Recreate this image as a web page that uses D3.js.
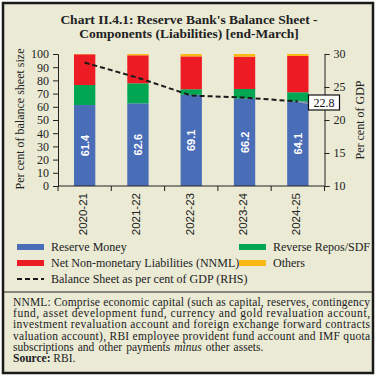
<!DOCTYPE html>
<html><head><meta charset="utf-8">
<script src="https://cdn.jsdelivr.net/npm/d3@7"></script>
<style>body{margin:0;background:#fff}svg{display:block}</style>
</head><body>
<script>
const years = ["2020-21","2021-22","2022-23","2023-24","2024-25"];
const reserveMoney = [61.4,62.6,69.1,66.2,64.1];
const reverseRepo = [15.1,15.2,4.2,7.3,6.9];
const nnml = [23.3,21.2,24.9,24.5,27.5];
const others = [0.2,1.0,1.8,2.0,1.5];
const gdpShare = [28.7,26.4,23.7,23.4,22.8];
const leftTicks = [0,10,20,30,40,50,60,70,80,90,100];
const rightTicks = [10,15,20,25,30];
const seriesNames = ["Reserve Money","Reverse Repos/SDF","Net Non-monetary Liabilities (NNML)","Others"];
const colors = ["#4a6db8","#00a651","#ed1c24","#fdb913"];

const W=378,H=377;
const svg=d3.select("body").append("svg").attr("width",W).attr("height",H);
svg.append("rect").attr("x",3).attr("y",3).attr("width",370).attr("height",370)
  .attr("fill","#eaead5").attr("stroke","#1a1a1a").attr("stroke-width",2.5);

const serif="'Liberation Serif','DejaVu Serif',serif";
const sans="'Liberation Sans',Arial,sans-serif";

svg.append("text").attr("x",189).attr("y",24).attr("text-anchor","middle")
  .attr("font-family",serif).attr("font-weight","bold").attr("font-size",13.5).attr("fill","#222")
  .text("Chart II.4.1: Reserve Bank's Balance Sheet -");
svg.append("text").attr("x",189).attr("y",38).attr("text-anchor","middle")
  .attr("font-family",serif).attr("font-weight","bold").attr("font-size",13.5).attr("fill","#222")
  .text("Components (Liabilities) [end-March]");

const x=d3.scaleBand().domain(years).range([58,324.5]).paddingInner(0.6).paddingOuter(0.3);
const y=d3.scaleLinear().domain([0,100]).range([186,54]);
const y2=d3.scaleLinear().domain([10,30]).range([186,54]);

const rows=years.map((yr,i)=>({year:yr,rm:reserveMoney[i],rr:reverseRepo[i],nn:nnml[i],ot:others[i]}));
const stack=d3.stack().keys(["rm","rr","nn","ot"])(rows);
stack.forEach((s,k)=>{
  svg.append("g").selectAll("rect").data(s).join("rect")
    .attr("x",d=>x(d.data.year)).attr("width",x.bandwidth())
    .attr("y",d=>y(d[1])).attr("height",d=>y(d[0])-y(d[1]))
    .attr("fill",colors[k]);
});
// bar labels
svg.append("g").selectAll("text").data(stack[0]).join("text")
  .attr("transform",d=>`translate(${x(d.data.year)+x.bandwidth()/2+4},${(y(d[0])+y(d[1]))/2}) rotate(-90)`)
  .attr("text-anchor","middle").attr("font-family",sans).attr("font-weight","bold")
  .attr("font-size",11).attr("fill","#fff").text(d=>d.data.rm.toFixed(1));

// axes
const axL=d3.axisLeft(y).tickValues(leftTicks).tickSize(5).tickPadding(4);
const gL=svg.append("g").attr("transform","translate(58,0)").call(axL);
const axR=d3.axisRight(y2).tickValues(rightTicks).tickSize(5).tickPadding(4);
const gR=svg.append("g").attr("transform","translate(324.5,0)").call(axR);
const axB=d3.axisBottom(x).tickSize(0).tickFormat("");
const gB=svg.append("g").attr("transform","translate(0,186)").call(axB);
// band boundary ticks
const bounds=years.map(d=>x(d)-x.step()*x.paddingInner()/2);
bounds.push(324.5);
gB.selectAll("line.bt").data(bounds).join("line").attr("class","bt")
  .attr("x1",d=>d).attr("x2",d=>d).attr("y1",0).attr("y2",5).attr("stroke","#222");
[gL,gR,gB].forEach(g=>{
  g.select(".domain").attr("stroke","#222");
  g.selectAll(".tick line").attr("stroke","#222");
  g.selectAll(".tick text").attr("font-family",serif).attr("font-size",12).attr("fill","#222");
});
gB.select(".domain").attr("d","M58,0H324.5");
// x labels
svg.append("g").selectAll("text").data(years).join("text")
  .attr("transform",d=>`translate(${x(d)+x.bandwidth()/2+2.5},193) rotate(-90)`)
  .attr("text-anchor","end").attr("font-family",sans).attr("font-size",11.5).attr("fill","#222")
  .text(d=>d);

svg.append("text").attr("transform","translate(24,119) rotate(-90)").attr("text-anchor","middle")
  .attr("font-family",serif).attr("font-size",12).attr("fill","#222").text("Per cent of balance sheet size");
svg.append("text").attr("transform","translate(364,120) rotate(-90)").attr("text-anchor","middle")
  .attr("font-family",serif).attr("font-size",12).attr("fill","#222").text("Per cent of GDP");

// GDP line
const line=d3.line().x((d,i)=>x(years[i])+x.bandwidth()/2).y(d=>y2(d));
svg.append("path").datum(gdpShare).attr("d",line).attr("fill","none")
  .attr("stroke","#1a1a1a").attr("stroke-width",2).attr("stroke-dasharray","5,3");
const lx=x(years[4])+x.bandwidth()/2, ly=y2(gdpShare[4]);
svg.append("line").attr("x1",lx).attr("y1",ly).attr("x2",308).attr("y2",ly+2)
  .attr("stroke","#aaa").attr("stroke-width",1);
svg.append("rect").attr("x",308.5).attr("y",95).attr("width",31).attr("height",15)
  .attr("fill","#fff").attr("stroke","#111").attr("stroke-width",1.2);
svg.append("text").attr("x",324).attr("y",106.5).attr("text-anchor","middle")
  .attr("font-family",serif).attr("font-size",12).attr("fill","#111").text(gdpShare[4].toFixed(1));

// legend
const leg=[{i:0,x:17,y:247},{i:1,x:239,y:247},{i:2,x:17,y:263},{i:3,x:239,y:263}];
leg.forEach(l=>{
  svg.append("rect").attr("x",l.x).attr("y",l.y-3).attr("width",27).attr("height",6).attr("fill",colors[l.i]);
  svg.append("text").attr("x",l.x+34).attr("y",l.y+4).attr("font-family",serif).attr("font-size",12)
    .attr("fill","#222").text(seriesNames[l.i]);
});
svg.append("line").attr("x1",17).attr("x2",44).attr("y1",279).attr("y2",279)
  .attr("stroke","#1a1a1a").attr("stroke-width",2).attr("stroke-dasharray","5,3");
svg.append("text").attr("x",51).attr("y",283).attr("font-family",serif).attr("font-size",12)
  .attr("fill","#222").text("Balance Sheet as per cent of GDP (RHS)");

svg.append("line").attr("x1",4).attr("x2",372).attr("y1",292).attr("y2",292).attr("stroke","#222").attr("stroke-width",1);

// note
const noteLines=[
 "NNML: Comprise economic capital (such as capital, reserves, contingency",
 "fund, asset development fund, currency and gold revaluation account,",
 "investment revaluation account and foreign exchange forward contracts",
 "valuation account), RBI employee provident fund account and IMF quota"
];
noteLines.forEach((t,i)=>{
  svg.append("text").attr("x",13).attr("y",306+i*11.2).attr("font-family",serif).attr("font-size",11.5)
    .attr("fill","#222").attr("textLength",357).attr("lengthAdjust","spacing").text(t);
});
const l5=svg.append("text").attr("x",13).attr("y",306+4*11.2).attr("font-family",serif).attr("font-size",11.5).attr("fill","#222")
  .attr("word-spacing",1.2);
l5.append("tspan").text("subscriptions and other payments ");
l5.append("tspan").attr("font-style","italic").text("minus");
l5.append("tspan").text(" other assets.");
const l6=svg.append("text").attr("x",13).attr("y",306+5*11.2).attr("font-family",serif).attr("font-size",11.5).attr("fill","#222");
l6.append("tspan").attr("font-weight","bold").text("Source:");
l6.append("tspan").text(" RBI.");
</script>
</body></html>
